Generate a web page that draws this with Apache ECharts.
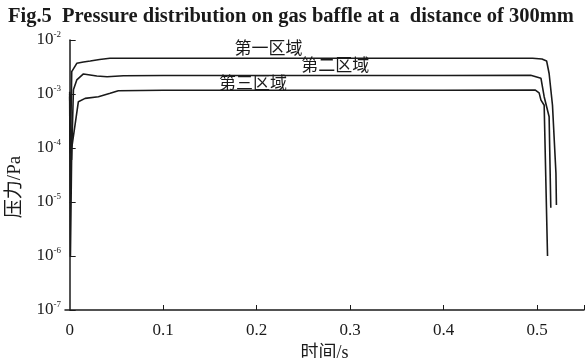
<!DOCTYPE html>
<html>
<head>
<meta charset="utf-8">
<script src="https://cdn.jsdelivr.net/npm/echarts@6/dist/echarts.min.js"></script>
<style>
  html, body { margin: 0; padding: 0; background: #fff; }
  #chart { width: 587px; height: 358px; }
</style>
</head>
<body>
<div id="chart"></div>
<script>
const titleText = 'Fig.5  Pressure distribution on gas baffle at a  distance of 300mm';
const xLabelValues = [0, 0.1, 0.2, 0.3, 0.4, 0.5];
const xTickValues = [0.1, 0.2, 0.3, 0.4, 0.5, 0.55];
const regionNames = ['第一区域', '第二区域', '第三区域'];

// [time (s), pressure (Pa)]
const region1 = [
  [0, 1.0e-3], [0.0008, 8e-5], [0.0022, 2.6e-3], [0.0076, 3.7e-3], [0.0147, 3.9e-3],
  [0.022, 4.08e-3], [0.032, 4.35e-3], [0.043, 4.58e-3], [0.1, 4.58e-3], [0.2, 4.58e-3],
  [0.3, 4.58e-3], [0.4, 4.58e-3], [0.495, 4.58e-3], [0.505, 4.45e-3], [0.510, 4.1e-3],
  [0.5127, 2.4e-3], [0.5163, 6.2e-4], [0.520, 3.4e-5], [0.5205, 8.8e-6]
];
const region2 = [
  [0, 1.1e-3], [0.002, 6e-5], [0.004, 1.2e-3], [0.0076, 1.82e-3], [0.0147, 2.35e-3],
  [0.0165, 2.4e-3], [0.029, 2.15e-3], [0.04, 2.09e-3], [0.0575, 2.18e-3], [0.1, 2.2e-3],
  [0.2, 2.2e-3], [0.3, 2.2e-3], [0.4, 2.2e-3], [0.493, 2.22e-3], [0.504, 1.95e-3],
  [0.5074, 8.9e-4], [0.5127, 3.8e-4], [0.5145, 7.8e-6]
];
const region3 = [
  [0, 9e-4], [0.0008, 1e-6], [0.0022, 1e-4], [0.0093, 7.2e-4], [0.0165, 8.3e-4],
  [0.0307, 8.9e-4], [0.0433, 1.03e-3], [0.052, 1.15e-3], [0.1, 1.17e-3], [0.2, 1.17e-3],
  [0.3, 1.17e-3], [0.4, 1.17e-3], [0.498, 1.18e-3], [0.502, 1.05e-3], [0.504, 7.7e-4],
  [0.5074, 6.2e-4], [0.511, 1e-6]
];
// where each region's name sits, in data units
const labelAt = [[0.2125, 6.8e-3], [0.284, 3.16e-3], [0.196, 1.47e-3]];

const ink = '#1a1a1a';
const serif = '"Liberation Serif", "DejaVu Serif", serif';
const cjk = '"Liberation Serif", "Noto Sans CJK SC", serif';

const chart = echarts.init(document.getElementById('chart'));

function makeSeries(data, i) {
  return {
    name: regionNames[i],
    type: 'line',
    data: data,
    showSymbol: false,
    lineStyle: { color: ink, width: 1.6 },
    markPoint: {
      symbol: 'circle',
      symbolSize: 1,
      itemStyle: { color: 'rgba(0,0,0,0)' },
      label: {
        show: true,
        position: 'inside',
        formatter: regionNames[i],
        color: ink,
        fontFamily: cjk,
        fontSize: 17
      },
      data: [{ coord: labelAt[i] }]
    }
  };
}

const option = {
  animation: false,
  backgroundColor: '#fff',
  title: {
    text: titleText,
    left: 3,
    top: 1,
    textStyle: { fontFamily: serif, fontWeight: 'bold', fontSize: 20.5, color: ink }
  },
  grid: { left: 65, right: 3, top: 40, bottom: 48, containLabel: false, outerBoundsMode: 'none' },
  xAxis: {
    type: 'value',
    min: -0.005,
    max: 0.55,
    name: '时间/s',
    nameLocation: 'middle',
    nameGap: 30,
    nameTextStyle: { fontFamily: cjk, fontSize: 18, color: ink },
    axisLine: { lineStyle: { color: ink, width: 1.5 } },
    axisTick: { inside: true, length: 5, customValues: xTickValues, lineStyle: { color: ink } },
    axisLabel: {
      customValues: xLabelValues,
      margin: 12,
      fontFamily: serif,
      fontSize: 17,
      color: ink
    },
    splitLine: { show: false }
  },
  yAxis: {
    type: 'log',
    logBase: 10,
    min: 1e-7,
    max: 1e-2,
    name: '压力/Pa',
    nameLocation: 'middle',
    nameGap: 40,
    nameTextStyle: { fontFamily: cjk, fontSize: 19, color: ink, padding: [0, 24, 0, 0] },
    axisLine: { show: true, lineStyle: { color: ink, width: 1.5 } },
    axisTick: { show: true, inside: true, length: 6, lineStyle: { color: ink } },
    axisLabel: {
      margin: 4,
      color: ink,
      formatter: function (v) {
        const e = Math.round(Math.log10(v));
        return '{b|10}{s|' + e + '}';
      },
      rich: {
        b: { fontFamily: serif, fontSize: 17, color: ink, lineHeight: 20 },
        s: { fontFamily: serif, fontSize: 9, color: ink, verticalAlign: 'top', lineHeight: 20, padding: [0, 0, 9, 0] }
      }
    },
    splitLine: { show: false }
  },
  series: [region1, region2, region3].map(makeSeries)
};

chart.setOption(option);
</script>
</body>
</html>
